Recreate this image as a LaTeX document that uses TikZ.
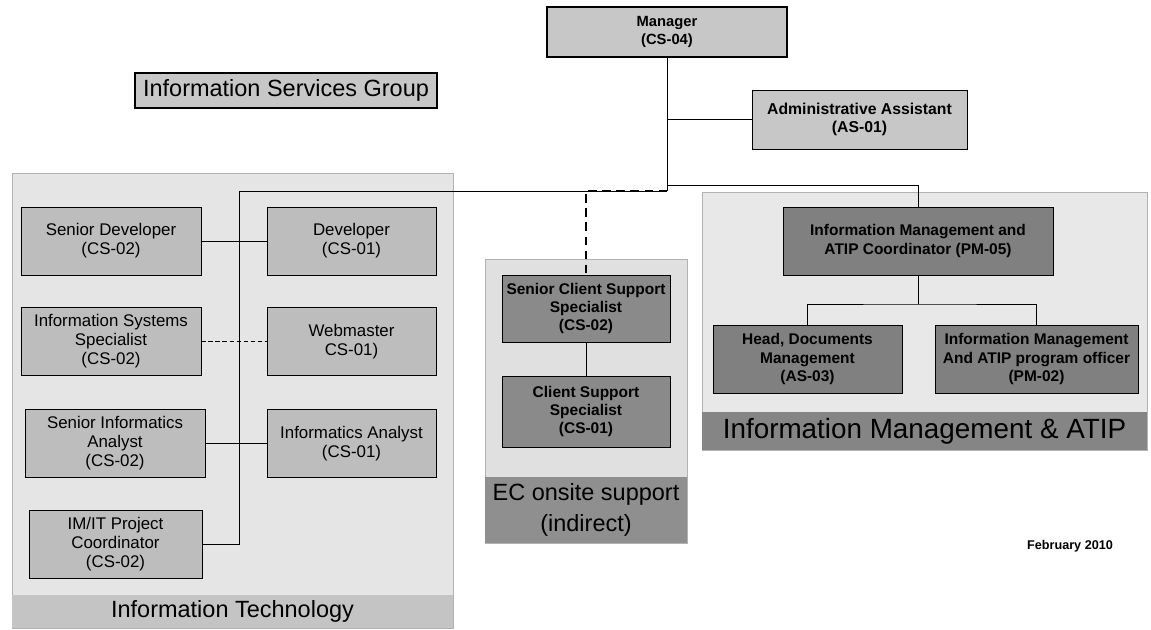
\documentclass[tikz,border=0pt]{standalone}
\usepackage{fontspec}
\setmainfont{Liberation Sans}
\usetikzlibrary{calc}
\tikzset{
	posbox/.style={draw, line width=0.5pt, align=center, inner sep=1pt, font=\fontsize{10.5}{12.5}\selectfont\bfseries},
	itbox/.style={draw, line width=0.5pt, fill=black!26, align=center, inner sep=1pt, font=\fontsize{12}{13.5}\selectfont},
	ecbox/.style={posbox, fill=black!46, font=\fontsize{11}{12.5}\selectfont\bfseries},
	imbox/.style={posbox, fill=black!50, font=\fontsize{11}{13}\selectfont\bfseries},
	grouplabel/.style={align=center, inner sep=0pt, font=\fontsize{16.7}{21.5}\selectfont},
	link/.style={line width=0.6pt}
}

\begin{document}
\begin{tikzpicture}[x=0.025cm, y=-0.025cm]
		%%%%% START %%%%%
		\useasboundingbox (0, 0) rectangle (1151, 630);
		
		% group panels
		\draw[fill=black!10, draw=black!30, line width=0.3pt] (12, 173) rectangle (453, 628);
		\fill[black!23] (12, 595) rectangle (453, 628);
		\draw[fill=black!12, draw=black!30, line width=0.3pt] (485, 259) rectangle (687, 543);
		\fill[black!44] (485, 477) rectangle (687, 543);
		\draw[fill=black!9, draw=black!30, line width=0.3pt] (702, 192) rectangle (1147, 450);
		\fill[black!48] (702, 412) rectangle (1147, 450);
		
		\node[grouplabel] (itlabel) at (232.5, 611.5) {Information Technology};
		\node[grouplabel] (eclabel) at (586, 510) {EC onsite support\\(indirect)};
		\node[grouplabel, font=\fontsize{19.8}{22}\selectfont] (imlabel) at (924.5, 431) {Information Management \& ATIP};
		
		% top level
		\node[posbox, fill=black!22, line width=1.4pt, minimum width=6cm, minimum height=1.25cm] (mgr) at (667, 32) {Manager\\(CS-04)};
		\node[posbox, fill=black!22, font=\fontsize{11.2}{13}\selectfont\bfseries, minimum width=5.375cm, minimum height=1.475cm] (adm) at (859.5, 119.5) {Administrative Assistant\\(AS-01)};
		\node[grouplabel, draw, line width=0.8pt, fill=black!22, minimum width=7.55cm, minimum height=0.875cm] (isg) at (286, 90.5) {Information Services Group};
		
		% information technology
		\node[itbox, minimum width=4.5cm, minimum height=1.7cm] (sdev) at (111, 241) {Senior Developer\\(CS-02)};
		\node[itbox, minimum width=4.225cm, minimum height=1.7cm] (dev) at (351.5, 241) {Developer\\(CS-01)};
		\node[itbox, minimum width=4.5cm, minimum height=1.7cm] (iss) at (111, 341.5) {Information Systems\\Specialist\\(CS-02)};
		\node[itbox, minimum width=4.225cm, minimum height=1.7cm] (web) at (351.5, 341.5) {Webmaster\\CS-01)};
		\node[itbox, minimum width=4.5cm, minimum height=1.7cm] (sia) at (115, 443.5) {Senior Informatics\\Analyst\\(CS-02)};
		\node[itbox, minimum width=4.225cm, minimum height=1.7cm] (ia) at (351.5, 443.5) {Informatics Analyst\\(CS-01)};
		\node[itbox, minimum width=4.325cm, minimum height=1.7cm] (pc) at (115.5, 544) {IM/IT Project\\Coordinator\\(CS-02)};
		
		% EC onsite support
		\node[ecbox, minimum width=4.2cm, minimum height=1.675cm] (scs) at (586, 308.5) {Senior Client Support\\Specialist\\(CS-02)};
		\node[ecbox, minimum width=4.2cm, minimum height=1.775cm] (cs) at (586, 411.5) {Client Support\\Specialist\\(CS-01)};
		
		% information management
		\node[imbox, minimum width=6.75cm, minimum height=1.7cm] (imc) at (918, 241) {Information Management and\\ATIP Coordinator (PM-05)};
		\node[imbox, minimum width=4.725cm, minimum height=1.7cm] (hdm) at (807.5, 359) {Head, Documents\\Management\\(AS-03)};
		\node[imbox, minimum width=5.075cm, minimum height=1.7cm] (imo) at (1036.5, 359) {Information Management\\And ATIP program officer\\(PM-02)};
		
		\node[font=\fontsize{9}{11}\selectfont\bfseries] (date) at (1070, 546) {February 2010};
		
		% connectors
		\coordinate (jn) at (667, 191);
		\coordinate (jnright) at (667, 185);
		\coordinate (itbus) at (239, 191);
		\coordinate (ecbend) at (586, 191);
		\coordinate (imbus) at (918, 304);
		
		\draw[link] (mgr.south) -- (jn);
		\draw[link] (mgr.south |- adm.west) -- (adm.west);
		\draw[link] (jn) -- (itbus) -- (itbus |- pc.east) -- (pc.east);
		\draw[link] (jnright) -| (imc.north);
		\draw[line width=1.2pt, dash pattern=on 6pt off 4pt] (jn) -- (ecbend) -- (scs.north);
		\draw[link] (scs.south) -- (cs.north);
		
		\draw[link] (sdev.east) -- (dev.west);
		\draw[link, densely dashed] (iss.east) -- (web.west);
		\draw[link] (sia.east) -- (ia.west);
		
		\draw[link] (imc.south) -- (imbus);
		\draw[link] (hdm.north) |- (imbus) -| (imo.north);
		
		%%%%% END %%%%%
	\end{tikzpicture}
\end{document}
